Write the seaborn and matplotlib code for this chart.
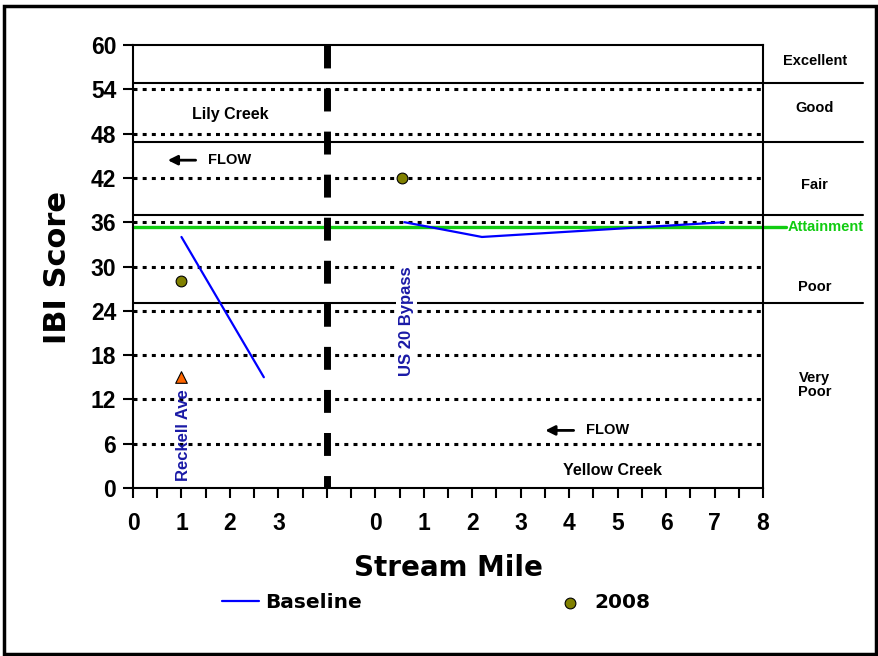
import numpy as np
import pandas as pd
import matplotlib
matplotlib.use('Agg')
import matplotlib.pyplot as plt
import seaborn as sns
from matplotlib.patches import Rectangle

# data (stream mile, IBI score)
lily_base_mile = [1.0, 2.7]
lily_base_ibi = [34, 15]
lily_2008_mile = [1.0]
lily_2008_ibi = [28]
lily_tri_mile = [1.0]
lily_tri_ibi = [15]
yellow_base_mile = [0.6, 2.2, 7.2]
yellow_base_ibi = [36, 34, 36]
yellow_2008_mile = [0.55]
yellow_2008_ibi = [42]

left_ticks = [0, 1, 2, 3]
right_ticks = [0, 1, 2, 3, 4, 5, 6, 7, 8]
y_ticks = [0, 6, 12, 18, 24, 30, 36, 42, 48, 54, 60]
class_bounds = [54.8, 46.9, 37.0, 25.1]
class_names = ['Excellent', 'Good', 'Fair', 'Poor', 'Very\nPoor']
class_label_y = [57.8, 51.4, 41.1, 27.2, 13.9]
attainment = 35.4

offset = 5  # yellow creek drawn after the break

sns.set_theme(style='white')
plt.rcParams['font.family'] = ['Liberation Sans', 'DejaVu Sans']
plt.rcParams['text.color'] = 'black'
plt.rcParams['axes.labelcolor'] = 'black'
plt.rcParams['xtick.color'] = 'black'
plt.rcParams['ytick.color'] = 'black'

fig = plt.figure(figsize=(8.79, 6.56), dpi=100)
ax = fig.add_axes([133/879, 1-488/656, 630/879, 443/656])

# dotted grid
for yv in y_ticks[1:-1]:
    ax.axhline(yv, color='black', lw=2.2, linestyle=(0, (1.3, 1.7)), zorder=1)

# class boundaries
for yb in class_bounds:
    ax.axhline(yb, xmin=0, xmax=1.159, color='black', lw=1.5, clip_on=False, zorder=2)
ax.axhline(attainment, xmin=0, xmax=1.036, color='#11CC11', lw=2.4, clip_on=False, zorder=2)

# break line
ax.plot([4, 4], [60, 0], color='black', lw=5, linestyle=(0, (3.3, 2.9)), zorder=3)

df_lb = pd.DataFrame({'x': lily_base_mile, 'y': lily_base_ibi})
df_yb = pd.DataFrame({'x': np.array(yellow_base_mile) + offset, 'y': yellow_base_ibi})
df_pts = pd.DataFrame({'x': lily_2008_mile + list(np.array(yellow_2008_mile) + offset),
                       'y': lily_2008_ibi + yellow_2008_ibi})

sns.lineplot(data=df_lb, x='x', y='y', ax=ax, color='#0000FF', lw=1.6, label='Baseline', zorder=4)
sns.lineplot(data=df_yb, x='x', y='y', ax=ax, color='#0000FF', lw=1.6, zorder=4, legend=False)
sns.scatterplot(data=df_pts, x='x', y='y', ax=ax, color='#808000', edgecolor='black',
                linewidth=0.8, s=60, label='2008', zorder=5)
sns.scatterplot(x=lily_tri_mile, y=lily_tri_ibi, ax=ax, marker='^', color='#FF6600',
                edgecolor='black', linewidth=0.8, s=70, zorder=5, legend=False)

ax.set_xlim(0, 13)
ax.set_ylim(0, 60)
ax.set_yticks(y_ticks)
ax.set_yticklabels([str(v) for v in y_ticks])
xpos = left_ticks + [t + offset for t in right_ticks]
ax.set_xticks(xpos)
ax.set_xticklabels([str(t) for t in left_ticks + right_ticks])
ax.set_xticks(np.arange(0, 13.01, 0.5), minor=True)
ax.tick_params(axis='both', which='both', direction='out', length=7, width=1.5,
               color='black', bottom=True, left=True)
ax.tick_params(axis='both', which='major', labelsize=16.5, pad=5)
for lab in ax.get_xticklabels() + ax.get_yticklabels():
    lab.set_fontweight('bold')
ax.tick_params(axis='x', which='major', pad=10)
for s in ax.spines.values():
    s.set_color('black')
    s.set_linewidth(1.5)
ax.set_xlabel('')
ax.set_ylabel('')

fig.text(58/879, 1-268/656, 'IBI Score', rotation=90, ha='center', va='center',
         fontsize=22, fontweight='bold', family='DejaVu Sans')
fig.text(448/879, 1-568/656, 'Stream Mile', ha='center', va='center',
         fontsize=20, fontweight='bold', family='DejaVu Sans')

# class labels on the right
for name, yl in zip(class_names, class_label_y):
    ax.text(1.082, yl, name, transform=ax.get_yaxis_transform(), ha='center', va='center',
            fontsize=10.5, fontweight='bold', clip_on=False, linespacing=1.0)
ax.text(1.039, 35.3, 'Attainment', transform=ax.get_yaxis_transform(), ha='left', va='center',
        fontsize=10.5, fontweight='bold', color='#11CC11', clip_on=False)

# annotations
ax.text(2.0, 50.6, 'Lily Creek', ha='center', va='center', fontsize=11.5, fontweight='bold')
ax.annotate('', xy=(0.66, 44.4), xytext=(1.35, 44.4),
            arrowprops=dict(arrowstyle='-|>', color='black', lw=2, mutation_scale=14))
ax.text(1.55, 44.4, 'FLOW', ha='left', va='center', fontsize=10.5, fontweight='bold')
ax.annotate('', xy=(8.45, 7.8), xytext=(9.15, 7.8),
            arrowprops=dict(arrowstyle='-|>', color='black', lw=2, mutation_scale=14))
ax.text(9.35, 7.8, 'FLOW', ha='left', va='center', fontsize=10.5, fontweight='bold')
ax.text(9.9, 2.4, 'Yellow Creek', ha='center', va='center', fontsize=11.5, fontweight='bold')
ax.text(1.05, 7.2, 'Reckell Ave', rotation=90, ha='center', va='center', fontsize=12,
        fontweight='bold', color='#1A1AA6', zorder=6)
ax.text(5.64, 22.6, 'US 20 Bypass', rotation=90, ha='center', va='center', fontsize=12,
        fontweight='bold', color='#1A1AA6', zorder=6,
        bbox=dict(facecolor='white', edgecolor='none', pad=2))

# legend below
h, l = ax.get_legend_handles_labels()
leg = fig.legend(h, l, loc='center left', bbox_to_anchor=(222/879, 1-603/656), ncol=2,
                 frameon=False, handlelength=1.85, handletextpad=0.3, columnspacing=9.4,
                 borderpad=0, borderaxespad=0, prop={'family': 'DejaVu Sans', 'weight': 'bold', 'size': 14.5})
ax.get_legend().remove() if ax.get_legend() else None

fig.patches.append(Rectangle((0.004, 0.003), 0.993, 0.988, transform=fig.transFigure,
                             fill=False, edgecolor='black', lw=2.5))

fig.savefig('out.png', dpi=100)
